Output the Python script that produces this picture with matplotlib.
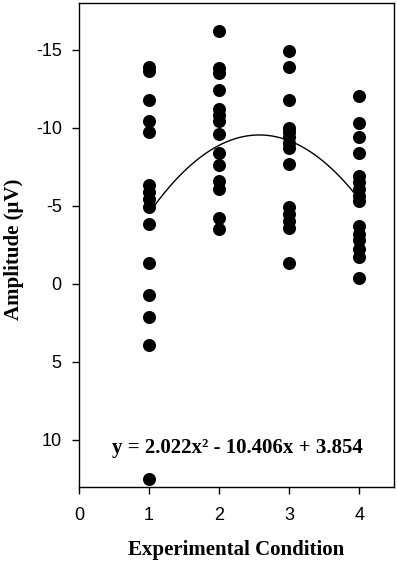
import matplotlib
matplotlib.use("Agg")
import matplotlib.pyplot as plt
import numpy as np

plt.rcParams['axes.unicode_minus'] = False

cond1 = [-13.9, -13.6, -11.8, -10.4, -9.7, -6.3, -5.9, -5.4, -4.9, -3.8, -1.3, 0.7, 2.1, 3.9, 12.5]
cond2 = [-16.2, -13.8, -13.5, -12.4, -11.2, -10.8, -10.4, -9.6, -8.4, -7.6, -6.6, -6.1, -4.2, -3.5]
cond3 = [-14.9, -13.9, -11.8, -10.0, -9.7, -9.4, -9.0, -8.7, -7.7, -4.9, -4.5, -4.0, -3.6, -1.3]
cond4 = [-12.0, -10.3, -9.4, -8.4, -6.9, -6.5, -6.1, -5.6, -5.3, -3.7, -3.2, -2.8, -2.2, -1.7, -0.4]
conditions = [1, 2, 3, 4]
coef = [2.022, -10.406, 3.854]
xticks = [0, 1, 2, 3, 4]
yticks = [-15, -10, -5, 0, 5, 10]
eq_text = "y = 2.022x² - 10.406x + 3.854"

fig = plt.figure(figsize=(3.97, 5.62), dpi=100)
ax = fig.add_axes([0.199, 0.134, 0.794, 0.861])

for c, vals in zip(conditions, [cond1, cond2, cond3, cond4]):
    ax.plot([c] * len(vals), vals, 'o', color='black', markersize=9.4, markeredgewidth=0)

xs = np.linspace(1, 4, 200)
ax.plot(xs, np.polyval(coef, xs), color='black', lw=1.0)

ax.set_xlim(0, 4.5)
ax.set_ylim(13, -18)
ax.set_xticks(xticks)
ax.set_yticks(yticks)
ax.tick_params(direction='out', length=5, width=1, labelsize=13)
ax.tick_params(axis='x', pad=9.5)
ax.tick_params(axis='y', pad=7.4)
for lab in ax.get_xticklabels() + ax.get_yticklabels():
    lab.set_fontfamily('Liberation Sans')
for s in ax.spines.values():
    s.set_linewidth(1.0)

ax.text(2.26, 10.5, eq_text, ha='center', va='center', fontsize=15,
        fontweight='bold', family='Liberation Serif')
ax.set_xlabel('Experimental Condition', fontsize=15, fontweight='bold',
              family='Liberation Serif', labelpad=12)
ax.set_ylabel('Amplitude (μV)', fontsize=15, fontweight='bold',
              family='Liberation Serif')
ax.yaxis.set_label_coords(-0.175, 0.49)

fig.savefig('out.png', dpi=100)
